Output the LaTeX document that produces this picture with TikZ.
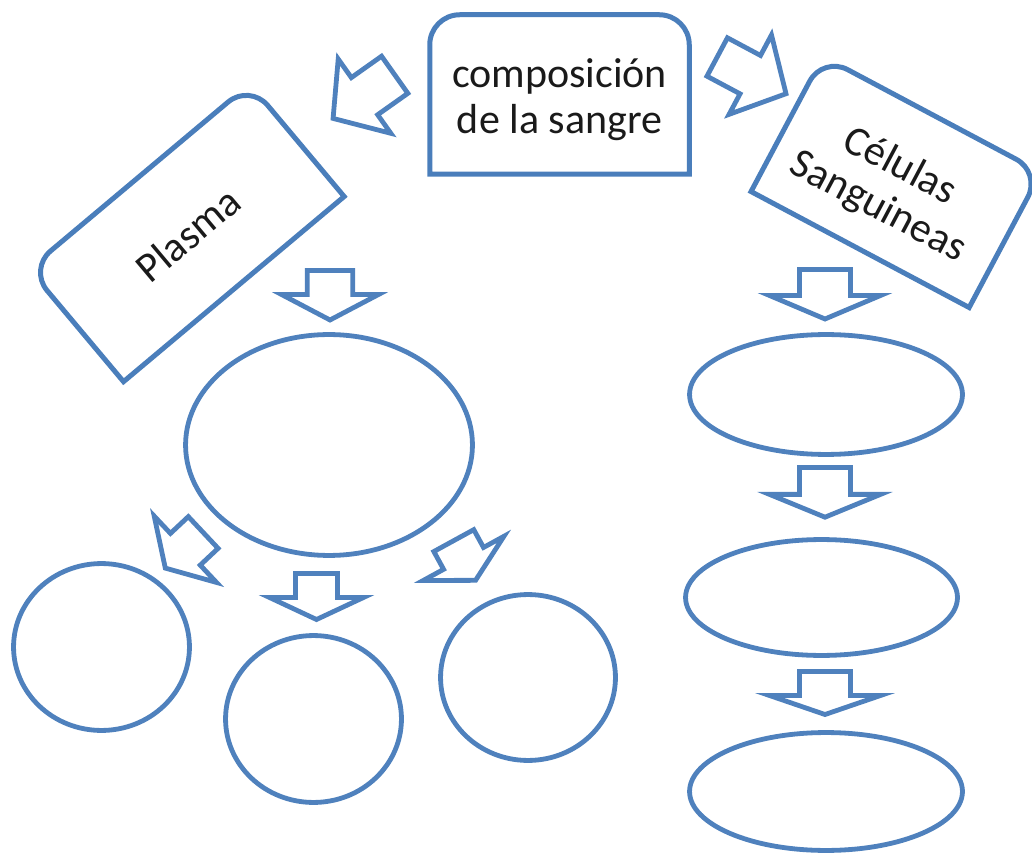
\documentclass[tikz,border=0pt]{standalone}
\usepackage{fontspec}
\setmainfont{Carlito}
\usetikzlibrary{shapes.geometric}
\definecolor{ablue}{HTML}{4F81BD}
\definecolor{bblue}{HTML}{4A7EBB}
\definecolor{ink}{HTML}{1A1A1A}
% block arrow: tail x, tail y, angle, length, head length, shaft width, head width
\newcommand\blockarr[7]{%
  \draw[arrowshape, shift={(#1,#2)}, rotate=#3]
    (0,{#6/2}) -- ({#4-#5},{#6/2}) -- ({#4-#5},{#7/2}) -- (#4,0)
    -- ({#4-#5},{-#7/2}) -- ({#4-#5},{-#6/2}) -- (0,{-#6/2}) -- cycle;}
% box with rounded top corners, centred at origin: width, height, radius
\newcommand\topround[3]{%
  \draw[boxline] ({-#1/2},{-#2/2}) -- ({-#1/2},{#2/2-#3})
    arc[start angle=180,end angle=90,radius=#3]
    -- ({#1/2-#3},{#2/2}) arc[start angle=90,end angle=0,radius=#3]
    -- ({#1/2},{-#2/2}) -- cycle;}
\begin{document}
\begin{tikzpicture}[x=1pt,y=1pt,
  oval/.style={ellipse, draw=ablue, line width=4.8pt, inner sep=0pt, outer sep=0pt},
  arrowshape/.style={draw=ablue, line width=4.8pt, line join=miter},
  boxline/.style={draw=bblue, line width=5pt},
  lbl/.style={font=\fontsize{42}{46}\selectfont, text=ink, align=center, inner sep=0pt}]
\useasboundingbox (0,0) rectangle (1032,857);

% top box
\begin{scope}[shift={(559.5,762.5)}]
  \topround{259.5}{159.5}{30}
  \node[lbl] (top) at (0,-5) {composición\\de la sangre};
\end{scope}

% Plasma box
\begin{scope}[shift={(186.6,624.2)}, rotate=40]
  \topround{288}{147}{28}
  \node[lbl, rotate=40] (plasma) at (0,-2) {Plasma};
\end{scope}

% Celulas box
\begin{scope}[shift={(896,675)}, rotate=-28]
  \topround{247}{153}{28}
  \node[lbl, rotate=-28] (cel) at (-4,-8) {Células\\Sanguineas};
\end{scope}

% ellipses
\node[oval, minimum width=286.9pt, minimum height=220.9pt] (e0) at (329,412) {};
\node[oval, minimum width=175.9pt, minimum height=166.9pt] (c1) at (101.5,210) {};
\node[oval, minimum width=175.9pt, minimum height=166.9pt] (c2) at (313.5,138) {};
\node[oval, minimum width=174.9pt, minimum height=165.9pt] (c3) at (528,179.5) {};
\node[oval, minimum width=272.9pt, minimum height=119.9pt] (r1) at (826,462.5) {};
\node[oval, minimum width=271.9pt, minimum height=115.9pt] (r2) at (821.5,259.5) {};
\node[oval, minimum width=272.9pt, minimum height=117.9pt] (r3) at (826,65.5) {};

% block arrows
\blockarr{394.7}{782.2}{215.3}{75.5}{38.5}{45.5}{91}
\blockarr{717.2}{800}{-28.1}{78}{40.5}{43.5}{90}
\blockarr{330}{586.5}{-90}{49.5}{25.5}{45.5}{97}
\blockarr{203.2}{324.5}{223.2}{52}{27.5}{43.5}{91}
\blockarr{316.5}{283.5}{-90}{46}{22}{42}{94}
\blockarr{453.8}{316.4}{-61.3}{45.3}{25}{45.5}{92}
\blockarr{825}{587.5}{-90}{49.5}{23.5}{51}{111}
\blockarr{825}{389.5}{-90}{49.7}{22.8}{51}{111}
\blockarr{825}{185.5}{-90}{43}{19}{51}{111}
\end{tikzpicture}
\end{document}
